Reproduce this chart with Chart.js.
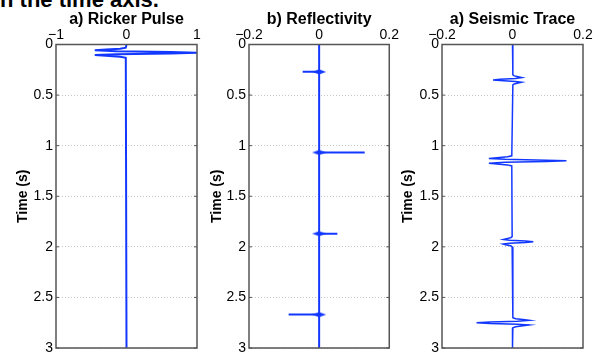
<!DOCTYPE html>
<html>
<head>
<meta charset="utf-8">
<script src="https://cdn.jsdelivr.net/npm/chart.js@4.4.1/dist/chart.umd.min.js"></script>
<style>
    html, body { margin: 0; padding: 0; width: 600px; height: 352px; overflow: hidden; background: #fff; }
    .panel { position: absolute; top: 0; height: 362px; }
    #caption { position: absolute; left: 0; top: -11px; font: bold 22px "Liberation Sans", Arial, sans-serif; line-height: 22px; color: #000; white-space: nowrap; }
</style>
</head>
<body>
<div id="caption">n the time axis.</div>
<div class="panel" style="left:0;width:203px"><canvas id="c1"></canvas></div>
<div class="panel" style="left:203px;width:197px"><canvas id="c2"></canvas></div>
<div class="panel" style="left:400px;width:200px"><canvas id="c3"></canvas></div>
<script>
// Data (time in s, amplitude)
const titles = ['a) Ricker Pulse', 'b) Reflectivity', 'a) Seismic Trace'];

const pulseTime = [0, 0.031, 0.041, 0.05, 0.058, 0.066, 0.074, 0.081, 0.088, 0.096, 0.104, 0.112, 0.121, 0.131, 3];
const pulseAmp  = [0, -0.01, -0.09, -0.29, -0.45, -0.14, 0.63, 1, 0.63, -0.14, -0.45, -0.29, -0.09, -0.01, 0];

const reflTime = [0, 0.27, 0.27, 0.27, 1.067, 1.067, 1.067, 1.87, 1.87, 1.87, 2.67, 2.67, 2.67, 3];
const reflAmp  = [0, 0, -0.047, 0, 0, 0.13, 0, 0, 0.052, 0, 0, -0.087, 0, 0];
const spikeTimes = [0.27, 1.067, 1.87, 2.67];

const traceTime = [0,
    0.30, 0.31, 0.319, 0.327, 0.335, 0.343, 0.35, 0.357, 0.365, 0.373, 0.381, 0.39, 0.40,
    1.10, 1.11, 1.119, 1.127, 1.135, 1.143, 1.15, 1.157, 1.165, 1.173, 1.181, 1.19, 1.20,
    1.90, 1.91, 1.919, 1.927, 1.935, 1.943, 1.95, 1.957, 1.965, 1.973, 1.981, 1.99, 2.00,
    2.70, 2.71, 2.719, 2.727, 2.735, 2.743, 2.75, 2.757, 2.765, 2.773, 2.781, 2.79, 2.80,
    3];
const traceAmp = [0,
    0.001, 0.005, 0.016, 0.026, 0.008, -0.035, -0.055, -0.035, 0.008, 0.026, 0.016, 0.005, 0.001,
    -0.002, -0.014, -0.044, -0.067, -0.021, 0.096, 0.153, 0.096, -0.021, -0.067, -0.044, -0.014, -0.002,
    -0.001, -0.005, -0.017, -0.026, -0.008, 0.037, 0.059, 0.037, -0.008, -0.026, -0.017, -0.005, -0.001,
    0.001, 0.009, 0.03, 0.047, 0.014, -0.064, -0.102, -0.064, 0.014, 0.047, 0.03, 0.009, 0.001,
    0];

const timeTicks = [0, 0.5, 1, 1.5, 2, 2.5, 3];

const BLUE = '#1238ff';
const FONT = '"Liberation Sans", Arial, Helvetica, sans-serif';

function toPoints(xs, ts) {
    return ts.map((t, i) => ({ x: xs[i], y: t }));
}

function fmt(v) {
    const s = String(+v.toFixed(2));
    return s.replace('-', '\u2212');
}

// small horizontal diamond used for the reflectivity spikes
const blob = document.createElement('canvas');
blob.width = 14; blob.height = 6;
const bctx = blob.getContext('2d');
bctx.fillStyle = BLUE;
bctx.beginPath();
bctx.moveTo(0, 3); bctx.lineTo(7, 0.5); bctx.lineTo(14, 3); bctx.lineTo(7, 5.5);
bctx.closePath();
bctx.fill();

// frame, inner tick marks and title centred over the plot area
const framePlugin = {
    id: 'frame',
    afterDatasetsDraw(chart) {
        const { ctx, chartArea: a, scales } = chart;
        ctx.save();
        ctx.strokeStyle = '#555';
        ctx.lineWidth = 1;
        timeTicks.forEach(t => {
            const y = scales.y.getPixelForValue(t);
            ctx.beginPath();
            ctx.moveTo(a.left, y); ctx.lineTo(a.left + 3, y);
            ctx.moveTo(a.right, y); ctx.lineTo(a.right - 3, y);
            ctx.stroke();
        });
        ctx.lineWidth = 1.5;
        ctx.strokeRect(a.left, a.top, a.right - a.left, a.bottom - a.top);
        ctx.fillStyle = '#000';
        ctx.font = 'bold 16px ' + FONT;
        ctx.textAlign = 'center';
        ctx.textBaseline = 'middle';
        ctx.fillText(chart.options.plugins.panelTitle, (a.left + a.right) / 2, 20);
        ctx.restore();
    }
};

function makePanel(id, opts) {
    const ctx = document.getElementById(id).getContext('2d');
    return new Chart(ctx, {
        type: 'scatter',
        data: { datasets: opts.datasets },
        options: {
            responsive: true,
            maintainAspectRatio: false,
            animation: false,
            events: [],
            layout: { padding: { left: 0, top: 0, right: opts.padRight, bottom: 14 } },
            plugins: {
                legend: { display: false },
                tooltip: { enabled: false },
                panelTitle: opts.title
            },
            scales: {
                x: {
                    type: 'linear',
                    position: 'top',
                    min: opts.xMin,
                    max: opts.xMax,
                    afterBuildTicks: s => { s.ticks = opts.xTicks.map(v => ({ value: v })); },
                    afterFit: s => { s.height = 44.5; },
                    grid: { display: false, drawTicks: false },
                    border: { display: false },
                    ticks: { color: '#000', font: { family: FONT, size: 14 }, padding: 1, maxRotation: 0, callback: fmt }
                },
                y: {
                    type: 'linear',
                    reverse: true,
                    min: 0,
                    max: 3,
                    afterBuildTicks: s => { s.ticks = timeTicks.map(v => ({ value: v })); },
                    afterFit: s => { s.width = opts.yWidth; },
                    grid: { color: '#c8c8c8', lineWidth: 1, drawTicks: false },
                    border: { display: false, dash: [1, 2] },
                    ticks: { color: '#000', font: { family: FONT, size: 14 }, padding: 3, callback: fmt },
                    title: {
                        display: true,
                        text: 'Time (s)',
                        color: '#000',
                        font: { family: FONT, size: 14, weight: 'bold' },
                        padding: { top: opts.titlePad, bottom: 0 }
                    }
                }
            }
        },
        plugins: [framePlugin]
    });
}

makePanel('c1', {
    title: titles[0], xMin: -1, xMax: 1, xTicks: [-1, 0, 1], padRight: 6, yWidth: 56, titlePad: 15,
    datasets: [{
        data: toPoints(pulseAmp, pulseTime),
        showLine: true, borderColor: BLUE, borderWidth: 2, pointRadius: 0, tension: 0
    }]
});

makePanel('c2', {
    title: titles[1], xMin: -0.2, xMax: 0.2, xTicks: [-0.2, 0, 0.2], padRight: 10, yWidth: 46, titlePad: 6,
    datasets: [{
        data: toPoints(reflAmp, reflTime),
        showLine: true, borderColor: BLUE, borderWidth: 2, pointRadius: 0, tension: 0
    }, {
        data: spikeTimes.map(t => ({ x: 0, y: t })),
        showLine: false, pointStyle: blob, pointRadius: 5
    }]
});

makePanel('c3', {
    title: titles[2], xMin: -0.2, xMax: 0.2, xTicks: [-0.2, 0, 0.2], padRight: 17, yWidth: 42, titlePad: 0,
    datasets: [{
        data: toPoints(traceAmp, traceTime),
        showLine: true, borderColor: BLUE, borderWidth: 1.5, pointRadius: 0, tension: 0
    }]
});
</script>
</body>
</html>
